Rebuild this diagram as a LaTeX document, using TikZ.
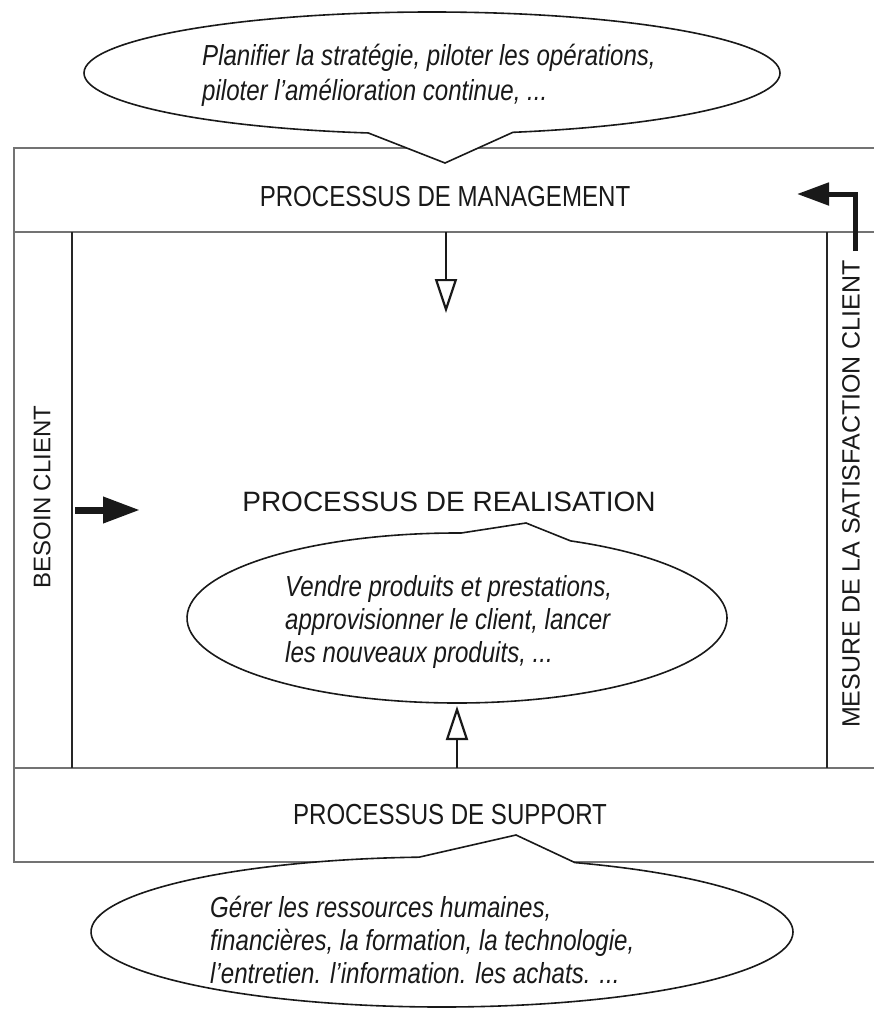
\documentclass[tikz,border=0pt]{standalone}
\usepackage{fontspec}
\setmainfont{Liberation Sans}
\newfontfamily\narrowfont[FakeStretch=0.83]{Liberation Sans}
\usetikzlibrary{shapes.callouts,arrows.meta}
\begin{document}
\begin{tikzpicture}[x=1pt,y=-1pt,
  frame/.style={draw=black!55,line width=1.4pt},
  innerline/.style={draw=black!85,line width=1.1pt},
  bubble/.style={ellipse callout,draw=black!90,line width=1.6pt,fill=white,inner sep=0pt},
  bubbletext/.style={font=\narrowfont\fontsize{29}{33}\selectfont\itshape,align=left,
    inner sep=0pt,text=black!90,anchor=base west},
  title/.style={font=\narrowfont\fontsize{29}{32}\selectfont,text=black!90,inner sep=0pt},
  sidetitle/.style={font=\fontsize{24}{28}\selectfont,text=black!90,inner sep=0pt,rotate=90},
  openarrow/.style={draw=black!90,line width=2.6pt,
    -{Triangle[open,length=34pt,width=22pt,line width=2.2pt]}},
  fillarrow/.style={draw=black!90,line width=7pt,
    -{Triangle[length=37pt,width=25pt]}},
  backarrow/.style={draw=black!90,line width=5pt,
    -{Triangle[length=32pt,width=22pt]}}]
\useasboundingbox (0,0) rectangle (874,1009);

% frame lines
\coordinate (a1) at (14,148);  \coordinate (a2) at (874,148);
\coordinate (b1) at (14,232);  \coordinate (b2) at (874,232);
\coordinate (c1) at (14,768);  \coordinate (c2) at (874,768);
\coordinate (d1) at (14,862);  \coordinate (d2) at (874,862);
\draw[frame] (a2) -- (a1) -- (d1) -- (d2);
\draw[frame] (b1) -- (b2);
\draw[frame] (c1) -- (c2);
\coordinate (l1) at (72,232);  \coordinate (l2) at (72,768);
\coordinate (r1) at (827,232); \coordinate (r2) at (827,768);
\draw[innerline] (l1) -- (l2);
\draw[innerline] (r1) -- (r2);

% titles
\node[title] (mgmt) at (445,197) {PROCESSUS DE MANAGEMENT};
\node[title,font=\fontsize{28}{32}\selectfont] (real) at (449,502) {PROCESSUS DE REALISATION};
\node[title] (supp) at (450,815) {PROCESSUS DE SUPPORT};
\node[sidetitle] (besoin) at (42,497) {BESOIN CLIENT};
\node[sidetitle,font=\fontsize{25}{28}\selectfont] (mesure) at (851,494) {MESURE DE LA SATISFACTION CLIENT};

% arrows
\coordinate (mgbot) at (446,232);  \coordinate (downtip) at (446,313);
\draw[openarrow] (mgbot) -- (downtip);
\coordinate (supptop) at (457,768); \coordinate (uptip) at (457,706);
\draw[openarrow] (supptop) -- (uptip);
\coordinate (bs) at (75,510); \coordinate (bt) at (140,510);
\draw[fillarrow] (bs) -- (bt);
\coordinate (fb1) at (855,251); \coordinate (fb3) at (797,194);
\draw[backarrow] (fb1) |- (fb3);

% bubbles
\node[bubble,minimum width=696pt,minimum height=122pt,
  callout absolute pointer={(445,163)},callout pointer arc=24] (topb) at (432,73) {};
\node[bubbletext,font=\narrowfont\fontsize{29}{35}\selectfont\itshape] (toptext) at (202,100)
  {Planifier la stratégie, piloter les opérations,\\piloter l’amélioration continue, ...};
\node[bubble,minimum width=540pt,minimum height=170pt,
  callout absolute pointer={(526,523)},callout pointer arc=24] (midb) at (457,618) {};
\node[bubbletext] (midtext) at (285,662)
  {Vendre produits et prestations,\\approvisionner le client, lancer\\les nouveaux produits, ...};
\node[bubble,minimum width=702pt,minimum height=150pt,
  callout absolute pointer={(516,835)},callout pointer arc=26] (botb) at (442,932) {};
\node[bubbletext] (bottext) at (210,983)
  {Gérer les ressources humaines,\\financières, la formation, la technologie,\\l’entretien. l’information. les achats. ...};
\end{tikzpicture}
\end{document}
